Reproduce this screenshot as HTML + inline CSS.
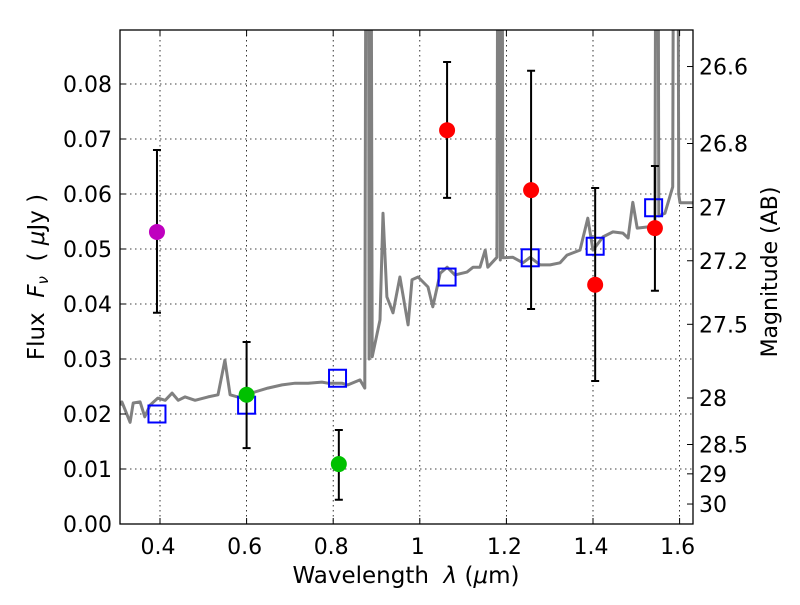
<!DOCTYPE html>
<html><head><meta charset="utf-8"><style>
body{margin:0;background:#fff;}
svg text{font-family:"DejaVu Sans","Liberation Sans",sans-serif;fill:#000;}
</style></head><body>
<svg id="chart" width="800" height="600" viewBox="0 0 800 600" xmlns="http://www.w3.org/2000/svg">
<defs><clipPath id="pc"><rect x="120" y="30" width="573" height="494"/></clipPath></defs>
<rect x="0" y="0" width="800" height="600" fill="#fff"/>
<g id="grid"></g>
<g id="spec" clip-path="url(#pc)"></g>
<g id="marks"></g>
<rect x="120" y="30" width="573" height="494" fill="none" stroke="#000" stroke-width="1.3"/>
<g id="axes"></g>
<text x="406" y="583" font-size="23" text-anchor="middle" style="white-space:pre">Wavelength  <tspan font-style="italic">λ</tspan> (<tspan font-style="italic">μ</tspan>m)</text>
<text transform="translate(44,277) rotate(-90)" font-size="23" text-anchor="middle" style="white-space:pre">Flux  <tspan font-style="italic">F</tspan><tspan font-style="italic" font-size="15" dy="4">ν</tspan><tspan dy="-4">  ( </tspan><tspan font-style="italic">μ</tspan>Jy )</text>
<text transform="translate(777,272) rotate(-90)" font-size="22" text-anchor="middle">Magnitude (AB)</text>
</svg>
<script>
const xTicks=[0.4,0.6,0.8,1.0,1.2,1.4,1.6];
const xTickLabels=["0.4","0.6","0.8","1","1.2","1.4","1.6"];
const yTicks=[0,0.01,0.02,0.03,0.04,0.05,0.06,0.07,0.08];
const yTickLabels=["0.00","0.01","0.02","0.03","0.04","0.05","0.06","0.07","0.08"];
const magTicks=[26.6,26.8,27,27.2,27.5,28,28.5,29,30];
const magTickLabels=["26.6","26.8","27","27.2","27.5","28","28.5","29","30"];
const specLam=[0.308,0.312,0.331,0.338,0.354,0.365,0.377,0.395,0.412,0.428,0.442,0.458,0.481,0.511,0.534,0.550,0.562,0.589,0.619,0.649,0.682,0.712,0.742,0.774,0.788,0.820,0.834,0.862,0.873,0.878,0.880,0.883,0.885,0.890,0.908,0.915,0.924,0.938,0.954,0.973,0.982,0.996,1.019,1.030,1.047,1.063,1.081,1.109,1.123,1.139,1.151,1.157,1.178,1.183,1.186,1.188,1.192,1.215,1.238,1.255,1.278,1.301,1.324,1.340,1.370,1.388,1.400,1.423,1.446,1.469,1.481,1.492,1.502,1.525,1.543,1.548,1.552,1.566,1.584,1.589,1.594,1.598,1.601,1.617,1.631];
const specFlux=[0.0216,0.0222,0.0185,0.022,0.0222,0.0195,0.0216,0.0229,0.0225,0.0238,0.0225,0.0231,0.0225,0.0231,0.0235,0.0298,0.0235,0.0229,0.024,0.0247,0.0253,0.0256,0.0256,0.0258,0.0256,0.0256,0.0253,0.0262,0.0247,0.2,0.2,0.03,0.2,0.0304,0.0371,0.0565,0.0413,0.0384,0.0449,0.0362,0.0444,0.0449,0.0431,0.0395,0.0456,0.0467,0.0453,0.0458,0.0467,0.0467,0.0498,0.0467,0.0485,0.2,0.048,0.2,0.0484,0.0485,0.0475,0.0485,0.0471,0.0471,0.0475,0.0489,0.0498,0.0556,0.0498,0.0522,0.0531,0.0529,0.052,0.0585,0.0538,0.054,0.054,0.2,0.056,0.0565,0.0613,0.2,0.2,0.06,0.0584,0.0584,0.0584];
const ptLam=[0.393,0.600,0.813,1.063,1.257,1.405,1.543];
const ptFlux=[0.0531,0.0235,0.0109,0.0716,0.0607,0.0435,0.0538];
const ptErrHi=[0.0680,0.0331,0.0171,0.0840,0.0824,0.0611,0.0651];
const ptErrLo=[0.0384,0.0138,0.0044,0.0593,0.0391,0.0260,0.0424];
const ptColor=["#bf00bf","#00c000","#00c000","#ff0000","#ff0000","#ff0000","#ff0000"];
const modLam=[0.393,0.600,0.810,1.063,1.255,1.405,1.540];
const modFlux=[0.0200,0.0216,0.0265,0.0449,0.0484,0.0505,0.0575];

const NS="http://www.w3.org/2000/svg";
function X(l){return 160+(l-0.4)*433;}
function Y(f){return 524-f*5500;}
function mk(tag,attrs,parent){const e=document.createElementNS(NS,tag);for(const k in attrs)e.setAttribute(k,attrs[k]);parent.appendChild(e);return e;}
const grid=document.getElementById('grid'),axes=document.getElementById('axes'),spec=document.getElementById('spec'),marks=document.getElementById('marks');
xTicks.forEach((t,i)=>{
  const x=X(t);
  const g=mk('line',{x1:x,x2:x,y1:30,y2:524,stroke:'#000','stroke-width':0.8,'stroke-dasharray':'1.5,3.5'},grid);
  
  
  mk('line',{x1:x,x2:x,y1:524,y2:518,stroke:'#000'},axes);
  mk('line',{x1:x,x2:x,y1:30,y2:36,stroke:'#000'},axes);
  const tx=mk('text',{x:x-2,y:554,'font-size':22,'text-anchor':'middle'},axes);
  tx.textContent=xTickLabels[i];
  
  
});
yTicks.forEach((t,i)=>{
  const y=Y(t);
  const g=mk('line',{x1:120,x2:693,y1:y,y2:y,stroke:'#000','stroke-width':0.8,'stroke-dasharray':'1.5,3.5'},grid);
  
  
  mk('line',{x1:120,x2:126,y1:y,y2:y,stroke:'#000'},axes);
  const tx=mk('text',{x:112,y:y+8,'font-size':22,'text-anchor':'end'},axes);
  tx.textContent=yTickLabels[i];
  
  
});
magTicks.forEach((m,i)=>{
  const y=Y(Math.pow(10,(23.9-m)/2.5));
  mk('line',{x1:687,x2:693,y1:y,y2:y,stroke:'#000'},axes);
  const tx=mk('text',{x:699,y:y+8,'font-size':22},axes);
  tx.textContent=magTickLabels[i];
  
  
});
let d='';
specLam.forEach((l,i)=>{d+=(i?'L':'M')+X(l).toFixed(1)+','+Y(specFlux[i]).toFixed(1);});
const sp=mk('path',{d:d,fill:'none',stroke:'#808080','stroke-width':3,'stroke-linejoin':'round'},spec);


modLam.forEach((l,i)=>{
  const r=mk('rect',{x:X(l)-8.5,y:Y(modFlux[i])-8.5,width:17,height:17,fill:'none',stroke:'#0000ff','stroke-width':2},marks);
  
  
});
ptLam.forEach((l,i)=>{
  const x=X(l),yh=Y(ptErrHi[i]),yl=Y(ptErrLo[i]);
  const e=mk('path',{d:`M${x},${yh}L${x},${yl}M${x-4},${yh}L${x+4},${yh}M${x-4},${yl}L${x+4},${yl}`,stroke:'#000','stroke-width':2,fill:'none'},marks);
  
  
  const c=mk('circle',{cx:x,cy:Y(ptFlux[i]),r:8,fill:ptColor[i]},marks);
  
  
});
</script>
</body></html>
